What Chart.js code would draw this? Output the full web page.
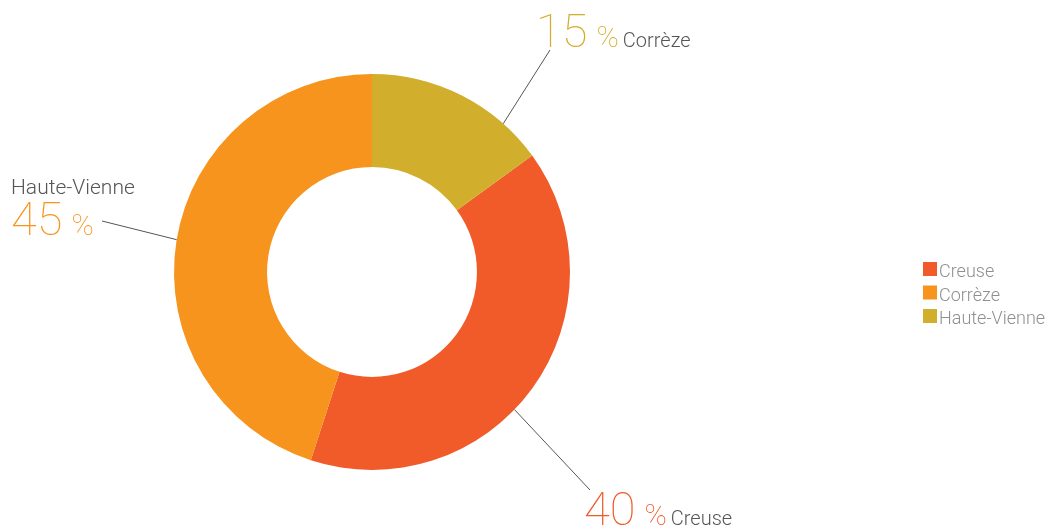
<!DOCTYPE html>
<html>
<head>
<meta charset="utf-8">
<script src="https://cdn.jsdelivr.net/npm/chart.js@4"></script>
<style>
  html, body { margin: 0; padding: 0; background: #fff; }
  #wrap { width: 1051px; height: 528px; }
</style>
</head>
<body>
<div id="wrap"><canvas id="chart" width="1051" height="528"></canvas></div>
<script>
// data
const labels = ["Creuse", "Corrèze", "Haute-Vienne"];
const values = [40, 45, 15];
const colors = ["#F15A29", "#F7941D", "#D1AE2B"];
// names written next to each slice in the reference
const calloutNames = ["Creuse", "Haute-Vienne", "Corrèze"];

const FONT = "Roboto, 'Open Sans', sans-serif";

// callout layout: angle on the ring where the line starts, line end, text spot
const callouts = [
    { angle: 134, end: [590, 490], x: 584, y: 525, mode: "inline" },
    { angle: 279.4, end: [102, 221], x: 11, y: 235, mode: "stacked" },
    { angle: 41.5, end: [550, 50], x: 536, y: 47, mode: "inline" }
];

const calloutPlugin = {
    id: "callouts",
    afterDraw(chart) {
        const ctx = chart.ctx;
        const meta = chart.getDatasetMeta(0);
        ctx.save();
        meta.data.forEach((arc, i) => {
            const c = callouts[i];
            const a = (c.angle - 90) * Math.PI / 180;
            const sx = arc.x + Math.cos(a) * arc.outerRadius;
            const sy = arc.y + Math.sin(a) * arc.outerRadius;
            ctx.strokeStyle = "#555";
            ctx.lineWidth = 1;
            ctx.beginPath();
            ctx.moveTo(sx, sy);
            ctx.lineTo(c.end[0], c.end[1]);
            ctx.stroke();

            ctx.textBaseline = "alphabetic";
            ctx.textAlign = "left";
            let x = c.x;
            let y = c.y;
            if (c.mode === "stacked") {
                ctx.font = "300 21px " + FONT;
                ctx.fillStyle = "#555";
                ctx.fillText(calloutNames[i], x, y - 41);
            }
            ctx.fillStyle = colors[i];
            ctx.font = "100 47px " + FONT;
            ctx.fillText(String(values[i]), x, y);
            x += ctx.measureText(String(values[i])).width + 9;
            ctx.font = "100 30px " + FONT;
            ctx.fillText("%", x, y);
            x += ctx.measureText("%").width + 4;
            if (c.mode === "inline") {
                ctx.font = "300 20px " + FONT;
                ctx.fillStyle = "#555";
                ctx.fillText(calloutNames[i], x, y);
            }
        });

        // legend
        ctx.font = "300 18px " + FONT;
        labels.forEach((lab, i) => {
            const y = 262 + i * 23.5;
            ctx.fillStyle = colors[i];
            ctx.fillRect(923, y, 14, 14);
            ctx.fillStyle = "#8f8f8f";
            ctx.fillText(lab, 939, y + 15);
        });
        ctx.restore();
    }
};

new Chart(document.getElementById("chart"), {
    type: "doughnut",
    data: {
        labels: labels,
        datasets: [{
            data: values,
            backgroundColor: colors,
            borderWidth: 0
        }]
    },
    options: {
        responsive: false,
        animation: false,
        rotation: 54,
        cutout: "53%",
        layout: { padding: { left: 174, right: 481, top: 74, bottom: 58 } },
        plugins: {
            legend: { display: false },
            tooltip: { enabled: false }
        }
    },
    plugins: [calloutPlugin]
});
</script>
</body>
</html>
